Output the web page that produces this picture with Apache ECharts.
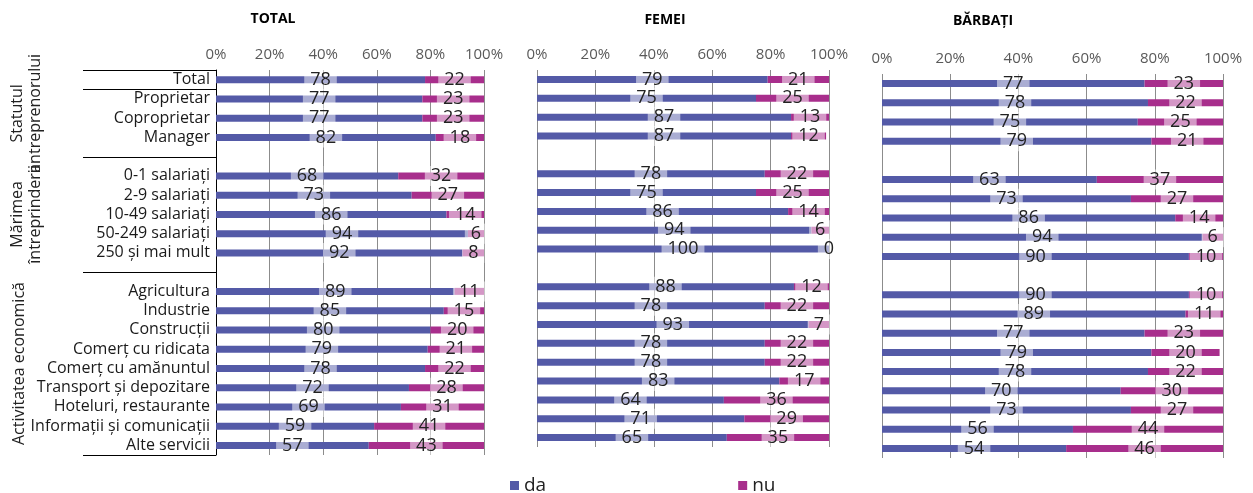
<!DOCTYPE html>
<html><head><meta charset="utf-8">
<script src="https://cdn.jsdelivr.net/npm/echarts@6/dist/echarts.min.js"></script>
<style>html,body{margin:0;padding:0;background:#fff}#c{width:1253px;height:493px}</style>
</head><body><div id="c"></div>
<script>
// ---- data ----
const categories = ['Total','Proprietar','Coproprietar','Manager','',
  '0-1 salariați','2-9 salariați','10-49 salariați','50-249 salariați','250 și mai mult',' ',
  'Agricultura','Industrie','Construcții','Comerț cu ridicata','Comerț cu amănuntul',
  'Transport și depozitare','Hoteluri, restaurante','Informații și comunicații','Alte servicii'];
const panelTitles = ['TOTAL','FEMEI','BĂRBAȚI'];
const seriesNames = ['da','nu'];
const xTickLabels = ['0%','20%','40%','60%','80%','100%'];
const groupTitles = [['Statutul','antreprenorului'],['Mărimea','întreprinderii'],['Activitatea economică']];

const totalDa  = [78,77,77,82,null,68,73,86,94,92,null,89,85,80,79,78,72,69,59,57];
const totalNu  = [22,23,23,18,null,32,27,14,6,8,null,11,15,20,21,22,28,31,41,43];
const femeiDa  = [79,75,87,87,null,78,75,86,94,100,null,88,78,93,78,78,83,64,71,65];
const femeiNu  = [21,25,13,12,null,22,25,14,6,0,null,12,22,7,22,22,17,36,29,35];
const barbatiDa = [77,78,75,79,null,63,73,86,94,90,null,90,89,77,79,78,70,73,56,54];
const barbatiNu = [23,22,25,21,null,37,27,14,6,10,null,10,11,23,20,22,30,27,44,46];
const panelData = [[totalDa,totalNu],[femeiDa,femeiNu],[barbatiDa,barbatiNu]];

// ---- style ----
const FONT = 'Open Sans';
const colors = ['#545AA7','#A82E8C'];
const grids = [
  {left:216, top:70, width:268, height:385},
  {left:537, top:70, width:292, height:377},
  {left:882, top:74, width:341, height:384}
];
const titlePos = [[273,19],[665,20],[983,21]];

const chart = echarts.init(document.getElementById('c'), null, {renderer:'canvas'});

const xAxes = grids.map((g,i)=>({
  gridIndex:i, type:'value', position:'top', min:0, max:100, interval:20,
  axisLine:{show:false}, axisTick:{show:false},
  axisLabel:{margin:8, color:'#595959', fontSize:15, fontFamily:FONT,
    formatter:(v)=>xTickLabels[Math.round(v/20)]},
  splitLine:{show:true, lineStyle:{color:'#8c8c8c', width:1}}
}));
const yAxes = grids.map((g,i)=>({
  gridIndex:i, type:'category', inverse:true, data:categories,
  axisLine:{show:i===0, lineStyle:{color:'#000', width:1}},
  axisTick:{show:false},
  axisLabel:{show:i===0, margin:6, color:'#1a1a1a', fontSize:16, fontFamily:FONT, interval:0}
}));
const series = [];
panelData.forEach((pd,i)=>{
  pd.forEach((vals,k)=>{
    series.push({
      name:seriesNames[k], type:'bar', stack:'s'+i, xAxisIndex:i, yAxisIndex:i,
      data:vals, barWidth:7, itemStyle:{color:colors[k]},
      label:{show:true, position:'inside', color:'#222', fontSize:18, fontFamily:FONT,
        backgroundColor:'rgba(255,255,255,0.5)', padding:[0,6], lineHeight:20,
        textBorderWidth:0, formatter:(p)=>p.value==null?'':String(p.value)},
      emphasis:{disabled:true}
    });
  });
});

chart.setOption({
  animation:false,
  grid:grids,
  xAxis:xAxes, yAxis:yAxes, series:series,
  legend:{data:seriesNames, left:505, top:471, icon:'rect', itemWidth:9, itemHeight:9,
    itemGap:192, textStyle:{fontSize:19, color:'#222', fontFamily:FONT}}
});

// decorations derived from the axes
const yOf = (c)=>chart.convertToPixel({yAxisIndex:0}, c);
const x0 = chart.convertToPixel({xAxisIndex:0}, 0);
const step = yOf(categories[1]) - yOf(categories[0]);
const sepY = [
  yOf(categories[0]) - step/2,
  (yOf(categories[0]) + yOf(categories[1]))/2,
  yOf(categories[4]),
  yOf(categories[10]),
  yOf(categories[categories.length-1]) + step/2
];
const gfx = [];
sepY.forEach(y=>{
  gfx.push({type:'line', shape:{x1:83, y1:Math.round(y)+0.5, x2:x0, y2:Math.round(y)+0.5},
    style:{stroke:'#000', lineWidth:1}, silent:true});
});
const bounds = [[sepY[0],sepY[2]],[sepY[2],sepY[3]],[sepY[3],sepY[4]]];
groupTitles.forEach((lines,i)=>{
  const cy = (bounds[i][0]+bounds[i][1])/2;
  const xs = lines.length===2 ? [17,35] : [19];
  lines.forEach((t,j)=>{
    gfx.push({type:'text', x:xs[j], y:cy, rotation:Math.PI/2, silent:true,
      style:{text:t, fill:'#222', font:'16px "'+FONT+'"', align:'center', verticalAlign:'middle'}});
  });
});
panelTitles.forEach((t,i)=>{
  gfx.push({type:'text', x:titlePos[i][0], y:titlePos[i][1], silent:true,
    style:{text:t, fill:'#000', font:'bold 14px "'+FONT+'"', align:'center', verticalAlign:'middle'}});
});
chart.setOption({graphic:gfx});
</script></body></html>
